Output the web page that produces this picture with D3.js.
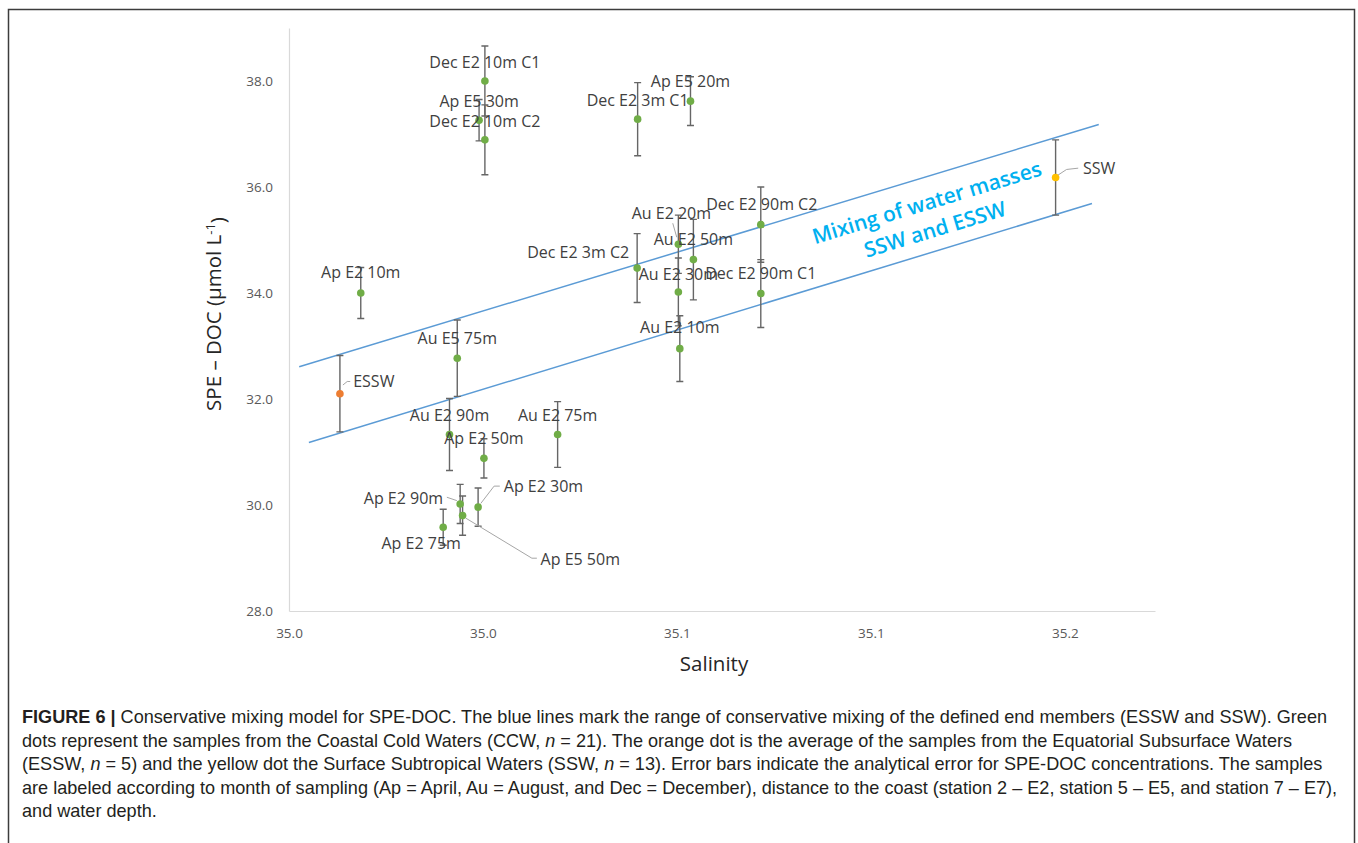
<!DOCTYPE html>
<html><head><meta charset="utf-8">
<script src="https://cdn.jsdelivr.net/npm/d3@7"></script>
<style>body{margin:0;background:#fff} svg{display:block}</style>
</head><body>
<svg id="chart" width="1358" height="843"></svg>
<script>
// ---------------- DATA ----------------
const sampleNames = ["Dec E2 10m C1","Ap E5 30m","Dec E2 10m C2","Dec E2 3m C1","Ap E5 20m","Dec E2 90m C2","Au E2 20m","Au E2 50m","Dec E2 3m C2","Au E2 30m","Dec E2 90m C1","Au E2 10m","Ap E2 10m","Au E5 75m","Au E2 90m","Ap E2 50m","Au E2 75m","Ap E2 90m","Ap E5 50m","Ap E2 30m","Ap E2 75m"];
const sampleSalinity = [35.0404,35.0392,35.0404,35.0719,35.0828,35.0973,35.0803,35.0834,35.0718,35.0803,35.0973,35.0806,35.0148,35.0347,35.0331,35.0402,35.0554,35.0353,35.0358,35.0390,35.0318];
const sampleDoc = [38.00,37.26,36.89,37.28,37.62,35.29,34.92,34.63,34.47,34.02,33.99,32.95,34.00,32.77,31.33,30.88,31.33,30.02,29.80,29.96,29.58];
const sampleError = [0.66,0.39,0.66,0.69,0.46,0.71,0.55,0.76,0.65,0.64,0.64,0.62,0.48,0.72,0.68,0.37,0.62,0.37,0.37,0.36,0.34];
const endMemberNames = ["ESSW","SSW"];
const endMemberSalinity = [35.0105,35.1581];
const endMemberDoc = [32.10,36.18];
const endMemberError = [0.72,0.71];
const mixingUpperSalinity = [35.0021,35.1670];
const mixingUpperDoc = [32.61,37.18];
const mixingLowerSalinity = [35.0041,35.1656];
const mixingLowerDoc = [31.18,35.69];
const xTickValues = [35.00,35.04,35.08,35.12,35.16];
const xTickLabels = ["35.0","35.0","35.1","35.1","35.2"];
const yTickValues = [28,30,32,34,36,38];
const yTickLabels = ["28.0","30.0","32.0","34.0","36.0","38.0"];
const mixingText = ["Mixing of water masses","SSW and ESSW"];
const xTitle = "Salinity";

// ---------------- LAYOUT ----------------
const svg = d3.select("#chart");
const FONT = "'Open Sans', sans-serif";
const x = d3.scaleLinear().domain([35.00,35.1786]).range([289,1155]);
const y = d3.scaleLinear().domain([28,39]).range([611,28]);

// frame
svg.append("path").attr("d","M8.5,843V9.5H1354.5V843").attr("fill","none").attr("stroke","#3c3c3c").attr("stroke-width",1.5);

// axes
const xAxis = svg.append("g").attr("transform","translate(0,611)")
  .call(d3.axisBottom(x).tickValues(xTickValues).tickFormat((d,i)=>xTickLabels[i]).tickSize(0).tickSizeOuter(0));
const yAxis = svg.append("g").attr("transform","translate(289,0)")
  .call(d3.axisLeft(y).tickValues(yTickValues).tickFormat((d,i)=>yTickLabels[i]).tickSize(0).tickSizeOuter(0));
[xAxis,yAxis].forEach(g=>{
  g.select(".domain").attr("stroke","#d9d9d9").attr("stroke-width",1.2);
  g.selectAll("text").attr("fill","#595959").style("font-family",FONT).style("font-size","13.5px");
});
xAxis.selectAll("text").attr("y",22).attr("dy","0.35em");
yAxis.selectAll("text").attr("x",-16).attr("dy","0.35em");

// titles
svg.append("text").attr("x",714).attr("y",664).attr("dy","0.35em").attr("text-anchor","middle")
  .style("font-family",FONT).style("font-size","20.5px").attr("fill","#262626").text(xTitle);
const yt = svg.append("text").attr("transform","translate(214,314) rotate(-90)").attr("dy","0.35em").attr("text-anchor","middle")
  .style("font-family",FONT).style("font-size","20.5px").attr("fill","#262626");
yt.append("tspan").text("SPE \u2013 DOC (\u00b5mol L");
yt.append("tspan").attr("dy","-0.45em").style("font-size","13px").text("-1");
yt.append("tspan").attr("dy","0.45em").text(")");

// mixing lines
const line = d3.line().x(d=>x(d[0])).y(d=>y(d[1]));
[[mixingUpperSalinity,mixingUpperDoc],[mixingLowerSalinity,mixingLowerDoc]].forEach(([sx,sy])=>{
  svg.append("path").attr("d",line(d3.zip(sx,sy))).attr("fill","none").attr("stroke","#5b9bd5").attr("stroke-width",1.5);
});

// mixing annotation, rotated along the lines
const angle = Math.atan2(y(mixingUpperDoc[1])-y(mixingUpperDoc[0]), x(mixingUpperSalinity[1])-x(mixingUpperSalinity[0]))*180/Math.PI;
const mt = svg.append("g").attr("transform",`translate(${x(35.1324)},${y(35.453)}) rotate(${angle})`);
mixingText.forEach((t,i)=>{
  mt.append("text").attr("x",0).attr("y",i===0?-14:14).attr("dy","0.35em").attr("text-anchor","middle")
    .style("font-family",FONT).style("font-size","21px").style("font-weight",600).attr("fill","#00b0f0").text(t);
});

// combine points
const points = sampleNames.map((n,i)=>({name:n,sx:sampleSalinity[i],doc:sampleDoc[i],err:sampleError[i],color:"#70ad47"}));
endMemberNames.forEach((n,i)=>points.push({name:n,sx:endMemberSalinity[i],doc:endMemberDoc[i],err:endMemberError[i],color:i===0?"#ed7d31":"#ffc000"}));

// error bars
const eb = svg.append("g").attr("stroke","#666666").attr("stroke-width",1.4).attr("fill","none");
points.forEach(p=>{
  const px=x(p.sx), y1=y(p.doc+p.err), y2=y(p.doc-p.err);
  eb.append("path").attr("d",`M${px},${y1}V${y2}M${px-3.5},${y1}H${px+3.5}M${px-3.5},${y2}H${px+3.5}`);
});

// points
svg.append("g").selectAll("circle").data(points).join("circle")
  .attr("cx",d=>x(d.sx)).attr("cy",d=>y(d.doc)).attr("r",3.8).attr("fill",d=>d.color);

// labels
const labelLayout = {
 "Dec E2 10m C1":{dx:0,dy:-19},
 "Ap E5 30m":{dx:0,dy:-19},
 "Dec E2 10m C2":{dx:0,dy:-18},
 "Dec E2 3m C1":{dx:0,dy:-19},
 "Ap E5 20m":{dx:0,dy:-20},
 "Dec E2 90m C2":{dx:1,dy:-20},
 "Au E2 20m":{dx:-7,dy:-31,leader:[[-5.6,-21],[-1.6,-7]]},
 "Au E2 50m":{dx:0,dy:-20},
 "Dec E2 3m C2":{dx:-8,dy:-16,anchor:"end"},
 "Au E2 30m":{dx:0,dy:-18},
 "Dec E2 90m C1":{dx:0,dy:-20},
 "Au E2 10m":{dx:0,dy:-21},
 "Ap E2 10m":{dx:0,dy:-21},
 "Au E5 75m":{dx:0,dy:-20},
 "Au E2 90m":{dx:0,dy:-19},
 "Ap E2 50m":{dx:0,dy:-20},
 "Au E2 75m":{dx:0,dy:-19},
 "Ap E2 90m":{dx:-17,dy:-6,anchor:"end",leader:[[-13.3,-6.7],[-3.3,-3.3]]},
 "Ap E5 50m":{dx:78,dy:43.6,anchor:"start",leader:[[3.3,2.6],[69.3,42.6],[74.3,42.6]]},
 "Ap E2 30m":{dx:25.7,dy:-20.3,anchor:"start",leader:[[2.7,-3.7],[16,-21],[21.7,-21]]},
 "Ap E2 75m":{dx:-22,dy:16},
 "ESSW":{dx:13.3,dy:-12,anchor:"start",leader:[[3,-8.7],[7.3,-12.2],[10.3,-12.2]]},
 "SSW":{dx:27.3,dy:-9,anchor:"start",leader:[[2.3,-2.3],[11,-8],[22.6,-9.3]]}
};
const lg = svg.append("g").attr("stroke","#a6a6a6").attr("stroke-width",1).attr("fill","none");
const tg = svg.append("g");
points.forEach(p=>{
  const L = labelLayout[p.name]||{dx:0,dy:-19};
  const px=x(p.sx), py=y(p.doc);
  if(L.leader){
    lg.append("path").attr("d","M"+L.leader.map(q=>`${px+q[0]},${py+q[1]}`).join("L"));
  }
  tg.append("text").attr("x",px+L.dx).attr("y",py+L.dy).attr("dy","0.35em")
    .attr("text-anchor",L.anchor||"middle").style("font-family",FONT).style("font-size","16px")
    .attr("fill","#404040").text(p.name);
});

// caption
const CF = "'Liberation Sans', Arial, sans-serif";
const capLines = [
 [["FIGURE 6 |","b"],[" Conservative mixing model for SPE-DOC. The blue lines mark the range of conservative mixing of the defined end members (ESSW and SSW). Green",""]],
 [["dots represent the samples from the Coastal Cold Waters (CCW, ",""],["n","i"],[" = 21). The orange dot is the average of the samples from the Equatorial Subsurface Waters",""]],
 [["(ESSW, ",""],["n","i"],[" = 5) and the yellow dot the Surface Subtropical Waters (SSW, ",""],["n","i"],[" = 13). Error bars indicate the analytical error for SPE-DOC concentrations. The samples",""]],
 [["are labeled according to month of sampling (Ap = April, Au = August, and Dec = December), distance to the coast (station 2 \u2013 E2, station 5 \u2013 E5, and station 7 \u2013 E7),",""]],
 [["and water depth.",""]]
];
capLines.forEach((segs,i)=>{
  const t = svg.append("text").attr("x",22).attr("y",723+i*23.5).style("font-family",CF).style("font-size","18.1px").attr("fill","#231f20");
  segs.forEach(([s,f])=>{
    const ts=t.append("tspan").text(s);
    if(f==="b") ts.style("font-weight","bold");
    if(f==="i") ts.style("font-style","italic");
  });
});
</script>
</body></html>
